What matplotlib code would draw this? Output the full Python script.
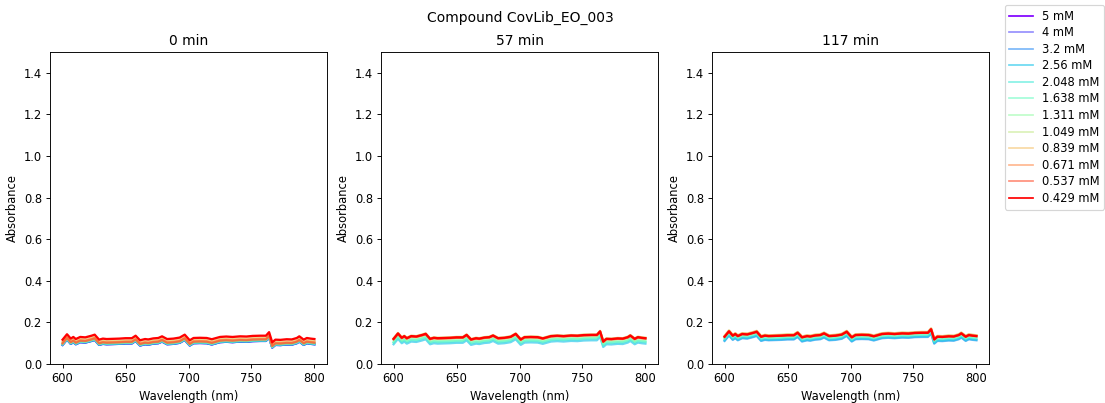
"""
Absorbance spectra of one compound at several concentrations and time points.
"""
import numpy as np
import matplotlib
matplotlib.use("Agg")
import matplotlib.pyplot as plt

# ---------DATA------------
compound = "CovLib_EO_003"
times = ["0 min", "57 min", "117 min"]
concentrations = ["5", "4", "3.2", "2.56", "2.048", "1.638", "1.311",
                  "1.049", "0.839", "0.671", "0.537", "0.429"]

wavelengths = [600, 603.5, 606.5, 608.5, 610.5, 614, 618, 623, 625.5, 629,
               632, 635, 640, 645, 650, 655, 658, 661.5, 665.5, 668, 672, 676, 679, 683,
               688, 693, 697, 701, 704, 709, 714.5, 718.5, 725, 730, 735, 741, 746, 751, 757,
               761.5, 764, 766.5, 769, 773, 778, 782, 786, 788, 791.5, 794, 797, 800]

# spectrum shape at 0 min
base_spectrum = [0.117, 0.143, 0.122, 0.130, 0.120, 0.130, 0.128, 0.136, 0.141, 0.117,
                 0.122, 0.120, 0.121, 0.122, 0.124, 0.124, 0.136, 0.114, 0.120, 0.118, 0.123, 0.125, 0.133, 0.120,
                 0.122, 0.127, 0.141, 0.114, 0.125, 0.126, 0.125, 0.119, 0.130, 0.132, 0.130, 0.133, 0.132, 0.135, 0.136,
                 0.136, 0.153, 0.104, 0.117, 0.116, 0.119, 0.118, 0.125, 0.133, 0.117, 0.125, 0.122, 0.120]

# shift of each concentration from that shape, per time point (nan = not shown)
nan = float("nan")
shift_0min = [-0.025, -0.025, -0.025, -0.024, -0.022, -0.022, -0.020,
              -0.012, -0.010, -0.016, -0.018, 0.0]
shift_57min = [nan, nan, nan, -0.022, -0.014, -0.012, -0.005,
               0.006, 0.006, 0.003, 0.002, 0.004]
shift_117min = [nan, nan, -0.006, -0.004, 0.002, 0.006, 0.012,
                0.018, 0.018, 0.016, 0.014, 0.014]
shifts = [shift_0min, shift_57min, shift_117min]

# ---------PLOT------------
fig = plt.figure(figsize=(1105 / 83, 403 / 83), dpi=83)
lefts = [50, 381, 712]
colors = plt.cm.rainbow(np.linspace(0, 1, len(concentrations)))
base = np.array(base_spectrum)

for k, t in enumerate(times):
    ax = fig.add_axes([lefts[k] / 1105, 1 - 364 / 403, 277 / 1105, 312 / 403])
    for i, c in enumerate(concentrations):
        edge = i == 0 or i == len(concentrations) - 1
        ax.plot(wavelengths, base + shifts[k][i], color=colors[i],
                alpha=1.0 if edge else 0.6, lw=2, label=f"{c} mM")
    ax.set_ylim(0, 1.5)
    ax.set_xticks([600, 650, 700, 750, 800])
    ax.set_title(t)
    ax.set_xlabel("Wavelength (nm)")
    ax.set_ylabel("Absorbance")
    if k == 0:
        handles, labels = ax.get_legend_handles_labels()

fig.text(520 / 1105, 1 - 18 / 403, f"Compound {compound}", ha="center", va="center",
         fontsize=12)
leg = fig.legend(handles, labels, loc="upper right", fontsize=10, labelspacing=0.31,
                 handlelength=2.0, borderaxespad=0.0,
                 bbox_to_anchor=(1104 / 1105, 1 - 5 / 403))
for line in leg.get_lines():
    line.set_linewidth(1.5)

plt.savefig("out.png", dpi=83)
